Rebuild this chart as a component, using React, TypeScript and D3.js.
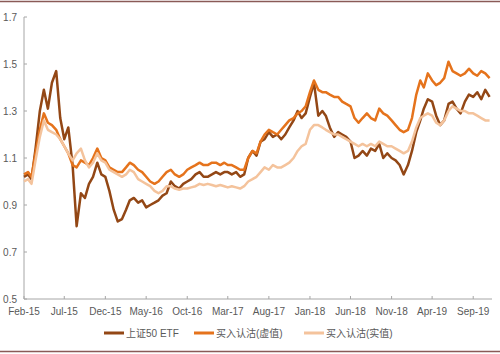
import { useMemo } from 'react';
import { scaleTime, scaleLinear, line, timeParse, timeFormat, timeMonth, curveLinear } from 'd3';

// half-month samples, 9th and 24th of each month
const dates = [
  '2015-02-09', '2015-02-24', '2015-03-09', '2015-03-24', '2015-04-09', '2015-04-24', '2015-05-09', '2015-05-24',
  '2015-06-09', '2015-06-24', '2015-07-09', '2015-07-24', '2015-08-09', '2015-08-24', '2015-09-09', '2015-09-24',
  '2015-10-09', '2015-10-24', '2015-11-09', '2015-11-24', '2015-12-09', '2015-12-24', '2016-01-09', '2016-01-24',
  '2016-02-09', '2016-02-24', '2016-03-09', '2016-03-24', '2016-04-09', '2016-04-24', '2016-05-09', '2016-05-24',
  '2016-06-09', '2016-06-24', '2016-07-09', '2016-07-24', '2016-08-09', '2016-08-24', '2016-09-09', '2016-09-24',
  '2016-10-09', '2016-10-24', '2016-11-09', '2016-11-24', '2016-12-09', '2016-12-24', '2017-01-09', '2017-01-24',
  '2017-02-09', '2017-02-24', '2017-03-09', '2017-03-24', '2017-04-09', '2017-04-24', '2017-05-09', '2017-05-24',
  '2017-06-09', '2017-06-24', '2017-07-09', '2017-07-24', '2017-08-09', '2017-08-24', '2017-09-09', '2017-09-24',
  '2017-10-09', '2017-10-24', '2017-11-09', '2017-11-24', '2017-12-09', '2017-12-24', '2018-01-09', '2018-01-24',
  '2018-02-09', '2018-02-24', '2018-03-09', '2018-03-24', '2018-04-09', '2018-04-24', '2018-05-09', '2018-05-24',
  '2018-06-09', '2018-06-24', '2018-07-09', '2018-07-24', '2018-08-09', '2018-08-24', '2018-09-09', '2018-09-24',
  '2018-10-09', '2018-10-24', '2018-11-09', '2018-11-24', '2018-12-09', '2018-12-24', '2019-01-09', '2019-01-24',
  '2019-02-09', '2019-02-24', '2019-03-09', '2019-03-24', '2019-04-09', '2019-04-24', '2019-05-09', '2019-05-24',
  '2019-06-09', '2019-06-24', '2019-07-09', '2019-07-24', '2019-08-09', '2019-08-24', '2019-09-09', '2019-09-24',
  '2019-10-09', '2019-10-24', '2019-11-09',
];

const etf = [
  1.02, 1.03, 1.01, 1.14, 1.30, 1.39, 1.31, 1.42, 1.47, 1.27, 1.18, 1.23, 1.07, 0.81, 0.95, 0.93,
  0.99, 1.02, 1.08, 1.03, 1.02, 0.96, 0.88, 0.83, 0.84, 0.88, 0.92, 0.93, 0.91, 0.92, 0.89, 0.90,
  0.91, 0.92, 0.94, 0.95, 1.00, 0.98, 0.97, 0.99, 1.00, 1.01, 1.03, 1.04, 1.02, 1.02, 1.03, 1.04,
  1.03, 1.04, 1.04, 1.03, 1.04, 1.02, 1.03, 1.10, 1.13, 1.11, 1.17, 1.18, 1.21, 1.19, 1.20, 1.18,
  1.20, 1.23, 1.26, 1.30, 1.27, 1.29, 1.36, 1.42, 1.28, 1.30, 1.28, 1.23, 1.19, 1.21, 1.20, 1.19,
  1.17, 1.10, 1.11, 1.13, 1.11, 1.14, 1.13, 1.16, 1.10, 1.12, 1.10, 1.09, 1.07, 1.03, 1.07, 1.13,
  1.21, 1.26, 1.31, 1.35, 1.34, 1.28, 1.24, 1.26, 1.33, 1.34, 1.31, 1.29, 1.34, 1.37, 1.36, 1.38,
  1.35, 1.39, 1.36,
];

const otmPut = [
  1.03, 1.04, 1.02, 1.12, 1.22, 1.29, 1.25, 1.24, 1.22, 1.18, 1.15, 1.12, 1.07, 1.06, 1.09, 1.08,
  1.07, 1.10, 1.14, 1.10, 1.09, 1.06, 1.05, 1.04, 1.04, 1.06, 1.08, 1.07, 1.05, 1.04, 1.02, 1.00,
  0.99, 1.00, 1.02, 1.04, 1.05, 1.03, 1.02, 1.03, 1.05, 1.06, 1.07, 1.08, 1.07, 1.07, 1.08, 1.08,
  1.07, 1.08, 1.07, 1.07, 1.06, 1.05, 1.05, 1.10, 1.13, 1.12, 1.17, 1.20, 1.22, 1.21, 1.20, 1.22,
  1.24, 1.26, 1.27, 1.29, 1.30, 1.32, 1.38, 1.43, 1.39, 1.38, 1.38, 1.37, 1.36, 1.36, 1.34, 1.33,
  1.32, 1.27, 1.25, 1.27, 1.29, 1.27, 1.26, 1.31, 1.29, 1.28, 1.26, 1.24, 1.22, 1.21, 1.22, 1.27,
  1.37, 1.43, 1.40, 1.46, 1.43, 1.41, 1.42, 1.44, 1.51, 1.47, 1.46, 1.45, 1.46, 1.48, 1.46, 1.45,
  1.47, 1.46, 1.44,
];

const itmPut = [
  1.00, 1.01, 0.99, 1.09, 1.19, 1.26, 1.22, 1.21, 1.20, 1.18, 1.15, 1.12, 1.09, 1.12, 1.14, 1.09,
  1.06, 1.08, 1.12, 1.09, 1.08, 1.05, 1.04, 1.03, 1.02, 1.03, 1.05, 1.04, 1.01, 1.00, 0.99, 0.98,
  0.96, 0.95, 0.96, 0.98, 0.98, 0.97, 0.965, 0.97, 0.97, 0.975, 0.98, 0.99, 0.985, 0.99, 0.985, 0.98,
  0.985, 0.98, 0.975, 0.98, 0.975, 0.97, 0.98, 1.00, 1.01, 1.02, 1.04, 1.06, 1.05, 1.07, 1.06, 1.06,
  1.07, 1.08, 1.10, 1.13, 1.15, 1.16, 1.22, 1.24, 1.24, 1.23, 1.22, 1.21, 1.20, 1.20, 1.19, 1.18,
  1.17, 1.16, 1.15, 1.16, 1.15, 1.16, 1.15, 1.17, 1.16, 1.15, 1.15, 1.14, 1.13, 1.12, 1.13, 1.17,
  1.23, 1.27, 1.28, 1.29, 1.28, 1.25, 1.24, 1.26, 1.30, 1.32, 1.31, 1.30, 1.30, 1.29, 1.29, 1.28,
  1.27, 1.26, 1.26,
];

const seriesNames = ['上证50 ETF', '买入认沽(虚值)', '买入认沽(实值)'];
const seriesColors = ['#934715', '#e5731c', '#f4c39c'];
const yTicks = [0.5, 0.7, 0.9, 1.1, 1.3, 1.5, 1.7];

const WIDTH = 500;
const HEIGHT = 354;
const margin = { left: 24, right: 8, top: 17, bottom: 55 };
const font = '"Liberation Sans", Arial, "Noto Sans CJK SC", sans-serif';

const parse = timeParse('%Y-%m-%d');
const fmt = timeFormat('%b-%y');

const App = () => {
  const parsed = useMemo(() => dates.map((d) => parse(d) as Date), []);
  const start = parsed[0];
  const end = parse('2019-11-18') as Date;

  const x = scaleTime().domain([start, end]).range([margin.left, WIDTH - margin.right]);
  const y = scaleLinear().domain([0.5, 1.7]).range([HEIGHT - margin.bottom, margin.top]);

  const xTicks = [];
  for (let k = 0; k < 12; k++) xTicks.push(timeMonth.offset(start, 5 * k));

  const gen = line<number>()
    .x((_, i) => x(parsed[i]))
    .y((d) => y(d))
    .curve(curveLinear);

  const all = [etf, otmPut, itmPut];
  const legendX = [104, 194, 304];
  const y0 = y(0.5);

  return (
    <svg
      width={WIDTH}
      height={HEIGHT}
      style={{ position: 'absolute', left: 0, top: 0, background: '#fff' }}
    >
      <line x1={0} x2={WIDTH} y1={1.5} y2={1.5} stroke="#8a5a57" strokeWidth={1.5} />
      <line x1={0} x2={WIDTH} y1={351.5} y2={351.5} stroke="#8a5a57" strokeWidth={1.5} />

      {/* y axis */}
      <line x1={margin.left} x2={margin.left} y1={y(1.7)} y2={y0} stroke="#a6a6a6" />
      {yTicks.map((t) => (
        <g key={t}>
          <line x1={margin.left} x2={margin.left + 3} y1={y(t)} y2={y(t)} stroke="#a6a6a6" />
          <text
            x={17}
            y={y(t)}
            dy="0.35em"
            textAnchor="end"
            fontSize={10}
            fontFamily={font}
            fill="#595959"
          >
            {t.toFixed(1)}
          </text>
        </g>
      ))}

      {/* x axis */}
      <line x1={margin.left} x2={WIDTH - margin.right} y1={y0} y2={y0} stroke="#a6a6a6" />
      {xTicks.map((t, i) => (
        <g key={i}>
          <line x1={x(t)} x2={x(t)} y1={y0} y2={y0 - 3} stroke="#a6a6a6" />
          <text
            x={x(t)}
            y={y0 + 16}
            textAnchor="middle"
            fontSize={10}
            fontFamily={font}
            fill="#595959"
          >
            {fmt(t)}
          </text>
        </g>
      ))}

      {all.map((s, i) => (
        <path
          key={i}
          d={gen(s) || ''}
          fill="none"
          stroke={seriesColors[i]}
          strokeWidth={2.5}
          strokeLinejoin="round"
        />
      ))}

      {/* legend */}
      {seriesNames.map((n, i) => (
        <g key={n}>
          <line
            x1={legendX[i]}
            x2={legendX[i] + 20}
            y1={333}
            y2={333}
            stroke={seriesColors[i]}
            strokeWidth={3}
          />
          <text
            x={legendX[i] + 22}
            y={333}
            dy="0.35em"
            fontSize={10}
            fontFamily={font}
            fill="#595959"
          >
            {n}
          </text>
        </g>
      ))}
    </svg>
  );
};

export default App;
